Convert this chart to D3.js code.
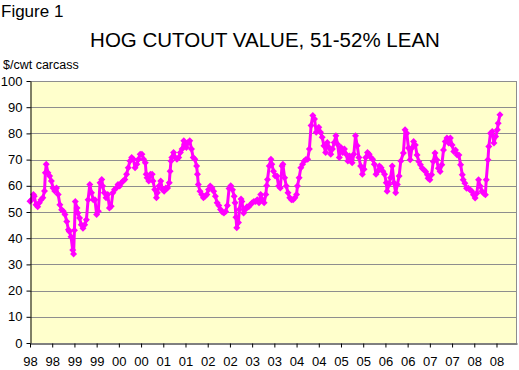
<!DOCTYPE html>
<html>
<head>
<meta charset="utf-8">
<script src="https://cdn.jsdelivr.net/npm/d3@7"></script>
<style>
  body { margin: 0; background: #fff; }
  text { font-family: Arial, "Liberation Sans", sans-serif; }
</style>
</head>
<body>
<div id="chart"></div>
<script>
// weeks since the first week of January 1998
const weeks = [
  0, 2, 4, 5, 7, 9, 11, 13, 15, 17, 18, 19, 21, 23, 25, 27, 29, 31, 33, 35, 37, 39, 41, 43, 45, 46, 48, 50, 51,
  52, 53, 55, 56, 58, 60, 62, 64, 66, 68, 70, 72, 74, 76, 78, 80, 82, 84, 85, 87, 89, 91, 93, 95, 97, 99, 101, 103,
  105, 107, 109, 111, 113, 115, 117, 119, 121, 123, 125, 127, 129, 131, 133, 135, 136, 137, 139, 141, 143, 144, 146,
  148, 149, 151, 153, 155, 157, 159, 161, 163, 164, 165, 166, 168, 170, 172, 174, 176, 178, 180, 181, 183, 185, 187,
  189, 191, 193, 195, 196, 197, 199, 201, 203, 205, 207, 209, 211, 213, 215, 217, 219, 221, 223, 225, 227, 229, 231,
  233, 235, 237, 239, 240, 241, 242, 244, 245, 247, 248, 250, 252, 254, 256, 258, 260, 262, 264, 266, 268, 270, 272,
  274, 276, 277, 278, 280, 282, 283, 285, 287, 289, 291, 293, 295, 296, 298, 300, 302, 304, 306, 308, 310, 312, 313,
  315, 317, 319, 321, 323, 325, 327, 329, 331, 333, 335, 337, 338, 340, 342, 344, 346, 348, 350, 352, 354, 356, 358,
  360, 362, 364, 366, 368, 370, 372, 374, 376, 377, 379, 381, 383, 385, 387, 389, 391, 393, 395, 397, 399, 401, 403,
  405, 407, 409, 411, 413, 415, 417, 418, 420, 422, 424, 426, 428, 430, 432, 434, 437, 439, 441, 443, 445, 447, 449,
  451, 453, 455, 457, 459, 461, 463, 465, 466, 468, 470, 472, 474, 476, 478, 480, 482, 484, 486, 488, 490, 492, 494,
  496, 498, 500, 502, 504, 506, 507, 509, 511, 513, 515, 517, 519, 521, 523, 525, 527, 529, 531, 533, 534, 536, 537,
  539, 541, 543, 545, 547, 548, 550
];

// $/cwt carcass
const cutout = [
  54.1, 54.7, 56.7, 56.0, 52.8, 52.0, 53.5, 54.7, 55.4, 58.0, 65.0, 68.2, 65.0, 63.7, 61.8, 59.2, 58.0, 59.2, 56.7,
  52.8, 50.9, 50.3, 49.0, 46.4, 43.2, 42.6, 40.6, 35.5, 34.0,
  43.0, 54.0, 51.5, 49.6, 47.7, 45.1, 43.8, 45.1, 47.0, 54.7, 60.5, 57.3, 54.7, 54.7, 49.0, 50.3, 61.2, 62.4, 59.9,
  57.3, 55.4, 56.7, 51.5, 52.2, 57.3, 58.6, 59.2, 60.5,
  59.9, 61.2, 61.8, 62.4, 64.4, 66.9, 69.5, 70.8, 70.1, 66.9, 68.2, 70.1, 72.0, 72.0, 70.1, 68.8, 64.4, 63.1, 61.8,
  64.4, 64.4, 61.8, 58.6,
  55.4, 57.3, 59.9, 61.8, 58.6, 57.9, 59.2, 59.2, 61.2, 65.6, 69.5, 70.8, 72.7, 70.8, 70.1, 70.8, 72.7, 74.0, 77.2,
  75.9, 74.6, 76.5, 77.2,
  74.0, 70.8, 70.1, 67.6, 64.4, 60.5, 57.9, 56.7, 55.4, 56.0, 56.7, 58.6, 59.9, 59.2, 57.9, 56.0, 53.5, 52.5, 51.0,
  50.0, 49.6, 50.2, 52.5,
  59.0, 60.0, 58.5, 56.0, 53.5, 48.0, 44.0, 46.0, 51.0, 55.0, 54.0, 49.6, 51.0, 52.0, 52.0, 52.8, 53.5, 54.0, 54.0,
  54.7, 53.5, 56.7, 54.7,
  53.5, 56.7, 60.0, 62.4, 67.6, 70.1, 68.2, 65.6, 63.7, 63.7, 59.9, 59.2, 67.6, 68.2, 63.1, 59.9, 57.3, 55.4, 54.7,
  54.7, 55.4, 56.7, 59.9,
  63.1, 66.9, 68.2, 69.5, 70.0, 70.1, 74.0, 83.0, 86.8, 85.5, 80.4, 81.7, 82.3, 80.4, 78.5, 75.3, 72.7, 76.5, 74.6,
  72.0, 74.0, 76.5, 79.1,
  75.9, 70.8, 74.6, 72.7, 74.0, 72.0, 69.5, 71.4, 70.1, 68.8, 72.0, 79.1, 75.3, 70.8, 67.6, 64.4, 66.3, 70.8, 72.7,
  72.0, 70.8, 70.1, 68.2,
  64.4, 65.6, 67.6, 66.9, 65.6, 64.4, 61.2, 57.9, 60.5, 63.1, 67.6, 61.2, 57.3, 60.5, 63.7, 69.5, 72.5, 81.4, 80.1,
  74.4, 69.9, 74.4, 76.9,
  75.6, 71.8, 69.3, 68.0, 66.7, 66.1, 65.5, 64.2, 62.9, 62.3, 64.2, 69.3, 72.5, 69.9, 66.7, 65.5, 68.0, 73.7, 76.9,
  78.2, 76.3, 78.2, 75.6,
  73.1, 73.7, 71.8, 71.8, 68.0, 64.2, 62.3, 61.0, 59.1, 59.1, 58.5, 57.9, 56.6, 55.3, 57.2, 62.3, 59.8, 57.9, 57.2,
  56.6, 62.3, 69.9, 75.0,
  80.1, 80.7, 76.3, 78.8, 81.4, 83.9, 87.1
];

// category axis: one tick every 26 weeks
const tickWeeks = [0, 26, 52, 78, 104, 130, 156, 182, 208, 234, 260, 286, 312, 338, 364, 390, 416, 442, 468, 494, 520, 546];
const tickLabels = ["98", "98", "99", "99", "00", "00", "01", "01", "02", "02", "03", "03",
                    "04", "04", "05", "05", "06", "06", "07", "07", "08", "08"];
const yTicks = [0, 10, 20, 30, 40, 50, 60, 70, 80, 90, 100];
const axisEndWeek = 570;

const data = weeks.map((w, i) => ({ week: w, value: cutout[i] }));

const width = 519, height = 370;
const svg = d3.select("#chart").append("svg")
  .attr("width", width)
  .attr("height", height);

const x = d3.scaleLinear().domain([0, axisEndWeek]).range([30, 517]);
const y = d3.scaleLinear().domain([0, 100]).range([343, 81]);

// plot area
svg.append("rect")
  .attr("x", x(0))
  .attr("y", y(100))
  .attr("width", x(axisEndWeek) - x(0))
  .attr("height", y(0) - y(100))
  .attr("fill", "#FFFFCC");

// gridlines
svg.append("g")
  .selectAll("line")
  .data(yTicks.filter(d => d > 0))
  .enter()
  .append("line")
  .attr("x1", x(0))
  .attr("x2", x(axisEndWeek))
  .attr("y1", d => Math.round(y(d)) + 0.5)
  .attr("y2", d => Math.round(y(d)) + 0.5)
  .attr("stroke", "#8e8e8e")
  .attr("stroke-width", 1);

// right border
svg.append("line")
  .attr("x1", Math.round(x(axisEndWeek)) - 0.5)
  .attr("x2", Math.round(x(axisEndWeek)) - 0.5)
  .attr("y1", y(100))
  .attr("y2", y(0))
  .attr("stroke", "#8e8e8e");

// series
const line = d3.line()
  .x(d => x(d.week))
  .y(d => y(d.value));

svg.append("path")
  .datum(data)
  .attr("fill", "none")
  .attr("stroke", "#FF00FF")
  .attr("stroke-width", 3)
  .attr("stroke-linejoin", "round")
  .attr("d", line);

svg.append("g")
  .selectAll("path")
  .data(data)
  .enter()
  .append("path")
  .attr("transform", d => `translate(${x(d.week)},${y(d.value)})`)
  .attr("d", "M0,-3.5L3.5,0L0,3.5L-3.5,0Z")
  .attr("fill", "#FF00FF");

// axes
const yAxis = svg.append("g")
  .attr("transform", "translate(30.5,0)")
  .call(d3.axisLeft(y).tickValues(yTicks).tickSize(4).tickSizeOuter(0).tickPadding(4));

const xAxis = svg.append("g")
  .attr("transform", "translate(0,343.5)")
  .call(d3.axisBottom(x).tickValues(tickWeeks).tickFormat((d, i) => tickLabels[i])
    .tickSize(4).tickSizeOuter(0).tickPadding(9));

[yAxis, xAxis].forEach(a => {
  a.selectAll("text")
    .style("font-family", "Arial, 'Liberation Sans', sans-serif")
    .style("font-size", "13px")
    .attr("fill", "#000");
  a.select(".domain").attr("stroke", "#000");
  a.selectAll(".tick line").attr("stroke", "#000");
});

// titles
svg.append("text")
  .attr("x", 1)
  .attr("y", 17)
  .style("font-size", "17px")
  .text("Figure 1");

svg.append("text")
  .attr("x", 265)
  .attr("y", 47)
  .attr("text-anchor", "middle")
  .style("font-size", "20.5px")
  .text("HOG CUTOUT VALUE, 51-52% LEAN");

svg.append("text")
  .attr("x", 3)
  .attr("y", 69)
  .style("font-size", "12.5px")
  .text("$/cwt carcass");
</script>
</body>
</html>
